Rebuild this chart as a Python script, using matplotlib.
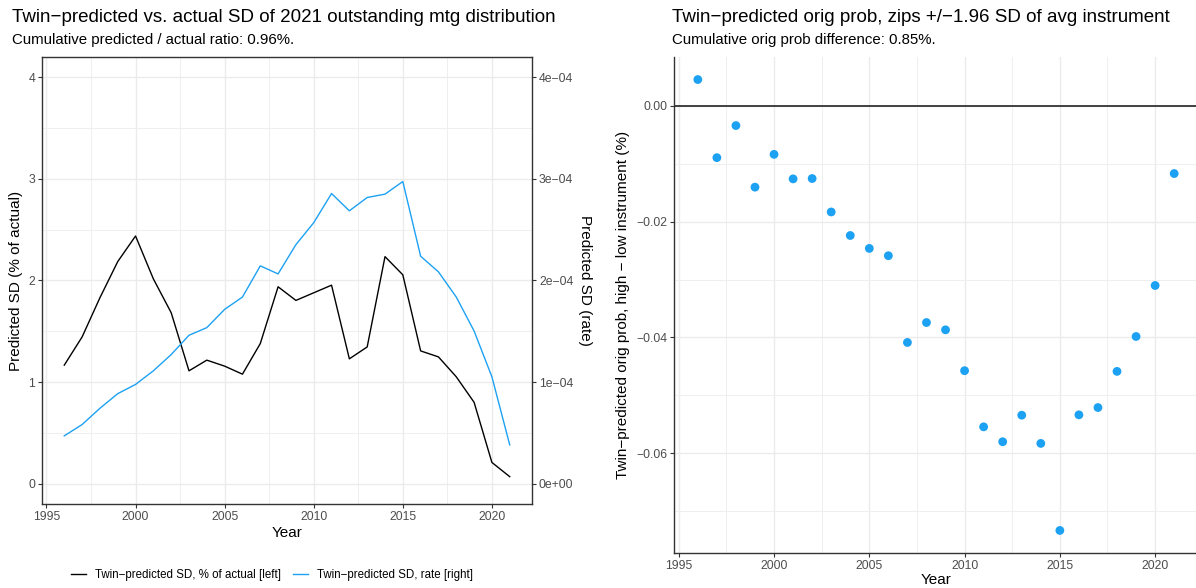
import matplotlib
matplotlib.use("Agg")
import matplotlib.pyplot as plt
from matplotlib.lines import Line2D
from matplotlib.ticker import FixedLocator, MultipleLocator

plt.rcParams['font.family'] = ['Liberation Sans', 'DejaVu Sans']

# ---- data ----
years = list(range(1996, 2022))

sd_pct_actual = [1.167, 1.444, 1.830, 2.186, 2.438, 2.016, 1.683, 1.111, 1.216, 1.157,
                 1.078, 1.379, 1.938, 1.804, 1.879, 1.954, 1.229, 1.346, 2.235, 2.056,
                 1.307, 1.248, 1.052, 0.801, 0.209, 0.069]

sd_rate = [0.471e-4, 0.582e-4, 0.742e-4, 0.886e-4, 0.977e-4, 1.111e-4, 1.271e-4, 1.461e-4,
           1.536e-4, 1.716e-4, 1.837e-4, 2.144e-4, 2.065e-4, 2.353e-4, 2.569e-4, 2.856e-4,
           2.686e-4, 2.817e-4, 2.850e-4, 2.974e-4, 2.239e-4, 2.085e-4, 1.837e-4, 1.503e-4,
           1.052e-4, 0.382e-4]

orig_prob_diff = [0.00451, -0.00897, -0.00343, -0.01406, -0.00840, -0.01263, -0.01257,
                  -0.01834, -0.02240, -0.02463, -0.02589, -0.04086, -0.03742, -0.03868,
                  -0.04573, -0.05542, -0.05799, -0.05341, -0.05828, -0.07330, -0.05335,
                  -0.05209, -0.04585, -0.03983, -0.03103, -0.01171]

x_ticks = [1995, 2000, 2005, 2010, 2015, 2020]
left_ticks = [0, 1, 2, 3, 4]
right_ticks = [0, 1e-4, 2e-4, 3e-4, 4e-4]
right_tick_labels = ["0e+00", "1e\u221204", "2e\u221204", "3e\u221204", "4e\u221204"]
prob_ticks = [0.00, -0.02, -0.04, -0.06]
prob_tick_labels = ["0.00", "\u22120.02", "\u22120.04", "\u22120.06"]

BLACK = "#000000"
BLUE = "#1DA1F2"
GRID_MAJ = "#EBEBEB"
GRID_MIN = "#EFEFEF"
TICK_TXT = "#4D4D4D"
AXIS_COL = "#333333"

W, H = 1196, 588
fig = plt.figure(figsize=(W / 100, H / 100), dpi=100)


def px_axes(x0, y0, x1, y1):
    return fig.add_axes([x0 / W, 1 - y1 / H, (x1 - x0) / W, (y1 - y0) / H])


def style_grid(ax):
    ax.set_axisbelow(True)
    ax.grid(which="major", color=GRID_MAJ, linewidth=1.0)
    ax.grid(which="minor", color=GRID_MIN, linewidth=0.7)
    ax.tick_params(which="minor", length=0)
    ax.tick_params(which="major", length=3, width=0.8, color=AXIS_COL,
                   labelcolor=TICK_TXT, labelsize=8.8, pad=2)


# ---- left panel: SD lines ----
ax = px_axes(42, 57, 532, 504)
x_lo, x_hi = 1996 - 0.05 * 25, 2021 + 0.05 * 25
ax.set_xlim(x_lo, x_hi)
ax.set_ylim(-0.2, 4.2)
ax.plot(years, sd_pct_actual, color=BLACK, linewidth=1.0)
ax.xaxis.set_major_locator(FixedLocator(x_ticks))
ax.xaxis.set_minor_locator(MultipleLocator(2.5))
ax.yaxis.set_major_locator(FixedLocator(left_ticks))
ax.yaxis.set_minor_locator(MultipleLocator(0.5))
style_grid(ax)
for s in ax.spines.values():
    s.set_color(AXIS_COL)
    s.set_linewidth(1.0)
ax.set_xlabel("Year", fontsize=11, labelpad=2)
ax.set_ylabel("Predicted SD (% of actual)", fontsize=11, labelpad=4)

ax2 = ax.twinx()
ax2.set_ylim(-0.2e-4, 4.2e-4)
ax2.plot(years, sd_rate, color=BLUE, linewidth=1.0)
ax2.yaxis.set_major_locator(FixedLocator(right_ticks))
ax2.set_yticklabels(right_tick_labels)
ax2.tick_params(axis="y", length=3, width=0.8, color=AXIS_COL,
                labelcolor=TICK_TXT, labelsize=8.8, pad=2)
for s in ax2.spines.values():
    s.set_visible(False)
ax2.set_ylabel("Predicted SD (rate)", fontsize=11, rotation=270, labelpad=13)

fig.text(12 / W, 1 - 17 / H, "Twin\u2212predicted vs. actual SD of 2021 outstanding mtg distribution",
         fontsize=13.5, ha="left", va="center")
fig.text(12 / W, 1 - 40 / H, "Cumulative predicted / actual ratio: 0.96%.",
         fontsize=10.8, ha="left", va="center")

handles = [Line2D([], [], color=BLACK, linewidth=1.0),
           Line2D([], [], color=BLUE, linewidth=1.0)]
fig.legend(handles,
           ["Twin\u2212predicted SD, % of actual [left]", "Twin\u2212predicted SD, rate [right]"],
           loc="center", bbox_to_anchor=(272 / W, 1 - 575 / H), ncol=2, frameon=False,
           fontsize=8.3, handlelength=1.3, handletextpad=0.8, columnspacing=1.0)

# ---- right panel: origination probability difference ----
bx = px_axes(674, 57, 1198, 553)
bx.set_xlim(x_lo, x_hi)
p_lo, p_hi = min(orig_prob_diff), max(orig_prob_diff)
pad = 0.05 * (p_hi - p_lo)
bx.set_ylim(p_lo - pad, p_hi + pad)
bx.axhline(0, color="#333333", linewidth=1.3, zorder=2)
bx.scatter(years, orig_prob_diff, s=40, color=BLUE, edgecolors="none", zorder=3)
bx.xaxis.set_major_locator(FixedLocator(x_ticks))
bx.xaxis.set_minor_locator(MultipleLocator(2.5))
bx.yaxis.set_major_locator(FixedLocator(prob_ticks))
bx.set_yticklabels(prob_tick_labels)
bx.yaxis.set_minor_locator(MultipleLocator(0.01))
style_grid(bx)
bx.spines["top"].set_visible(False)
bx.spines["right"].set_visible(False)
for k in ("left", "bottom"):
    bx.spines[k].set_color(AXIS_COL)
    bx.spines[k].set_linewidth(1.0)
bx.set_xlabel("Year", fontsize=11, labelpad=1)
bx.set_ylabel("Twin\u2212predicted orig prob, high \u2212 low instrument (%)", fontsize=11, labelpad=4)

fig.text(672 / W, 1 - 17 / H, "Twin\u2212predicted orig prob, zips +/\u22121.96 SD of avg instrument",
         fontsize=13.5, ha="left", va="center")
fig.text(672 / W, 1 - 40 / H, "Cumulative orig prob difference: 0.85%.",
         fontsize=10.8, ha="left", va="center")

fig.savefig("out.png", dpi=100)
